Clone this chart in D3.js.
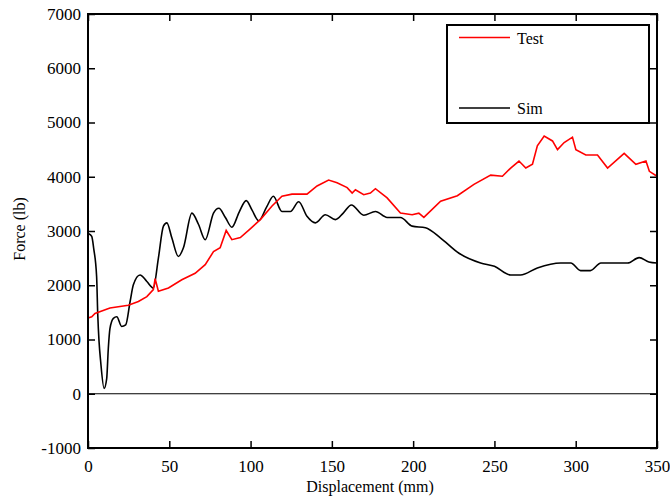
<!DOCTYPE html>
<html>
<head>
<meta charset="utf-8">
<script src="https://cdn.jsdelivr.net/npm/d3@7"></script>
<style>
	body { margin: 0; background: #fff; }
	text { font-family: "Liberation Serif", "Times New Roman", serif; fill: #000; }
</style>
</head>
<body>
<div id="chart"></div>
<script>
// chart data
const testDisp = [0.5, 2.3, 4.3, 13.5, 24.8, 31, 36.2, 40.2, 41.3, 43.3, 49.5, 57.7, 65.9, 72.1, 77.2, 81.3, 85, 88.5, 93.7, 99.8, 106, 113.2, 119.3, 125.5, 134.7, 140.9, 148, 153.2, 159.4, 162.5, 164.5, 169.6, 173.7, 176.8, 184, 192.2, 199.4, 203.5, 206.6, 216.9, 227.2, 237.4, 247.7, 254.9, 260, 265.1, 269.3, 273.4, 276.4, 280.6, 285.7, 288.8, 292.9, 298, 300.1, 306.2, 313.4, 319.6, 329.8, 337, 343.2, 345.3, 350]
const testForce = [1400, 1420, 1480, 1580, 1630, 1700, 1790, 1920, 2120, 1890, 1950, 2100, 2220, 2380, 2620, 2690, 3010, 2840, 2880, 3040, 3210, 3460, 3640, 3680, 3680, 3830, 3940, 3890, 3800, 3700, 3760, 3670, 3700, 3780, 3610, 3330, 3300, 3330, 3250, 3550, 3650, 3860, 4030, 4010, 4160, 4290, 4160, 4230, 4570, 4750, 4660, 4500, 4630, 4730, 4500, 4400, 4400, 4160, 4430, 4230, 4290, 4100, 4010]

const simDisp = [0.5, 2.3, 3.5, 5.3, 6, 6.8, 7.8, 9.9, 11.5, 12.5, 13.5, 15.6, 17.7, 20.7, 23.2, 25.9, 27.9, 32, 36.2, 40.2, 43.3, 46.4, 48.5, 51.6, 55.6, 58.7, 63.9, 68, 72.1, 77.2, 80.5, 84.5, 88.5, 93, 97.3, 101, 105, 110, 114, 119.3, 124.5, 129.6, 134.7, 139.9, 146, 152.2, 157, 162, 169.6, 176.8, 184, 192.2, 199.4, 207.6, 216.9, 228.2, 241.5, 250, 260, 266, 276.4, 290.8, 297, 303, 309, 315.5, 331.9, 339, 345, 350]
const simForce = [2950, 2900, 2680, 2160, 1460, 960, 590, 100, 280, 840, 1200, 1390, 1420, 1240, 1270, 1700, 2010, 2190, 2070, 1950, 2500, 3090, 3150, 2870, 2530, 2690, 3330, 3120, 2840, 3330, 3420, 3250, 3070, 3350, 3560, 3380, 3190, 3450, 3640, 3360, 3360, 3540, 3270, 3150, 3300, 3210, 3330, 3480, 3290, 3360, 3250, 3250, 3090, 3060, 2870, 2590, 2410, 2350, 2190, 2190, 2320, 2410, 2410, 2270, 2270, 2410, 2410, 2510, 2430, 2410]

const xTicks = [0, 50, 100, 150, 200, 250, 300, 350]
const yTicks = [-1000, 0, 1000, 2000, 3000, 4000, 5000, 6000, 7000]
const seriesNames = ["Test", "Sim"]
const seriesColors = ["#ff0000", "#000000"]

const svgWidth = 670
const svgHeight = 497

let margin = { top: 14, right: 13, bottom: 49, left: 88 }
let width = svgWidth - margin.left - margin.right
let height = svgHeight - margin.top - margin.bottom

let svg = d3.select("#chart")
	.append("svg")
	.attr("width", svgWidth)
	.attr("height", svgHeight)

let chartGroup = svg.append("g")
	.attr("transform", `translate(${margin.left}, ${margin.top})`)

let xScale = d3.scaleLinear().domain([0, 350]).range([0, width])
let yScale = d3.scaleLinear().domain([-1000, 7000]).range([height, 0])

// plain number labels with a hyphen minus, like the original
let plain = d => String(d)

// axes, ticks pointing inward on all four sides
let styleAxis = g => {
	g.select(".domain").remove()
	g.selectAll(".tick line").attr("stroke", "#000").attr("stroke-width", 1.5)
}

chartGroup.append("g")
	.attr("transform", `translate(0, ${height})`)
	.call(d3.axisBottom(xScale).tickValues(xTicks).tickSizeInner(-7).tickSizeOuter(0).tickPadding(12).tickFormat(plain))
	.call(styleAxis)
	.selectAll("text").style("font-size", "17px")

chartGroup.append("g")
	.call(d3.axisTop(xScale).tickValues(xTicks).tickSizeInner(-7).tickSizeOuter(0).tickFormat(""))
	.call(styleAxis)

chartGroup.append("g")
	.call(d3.axisLeft(yScale).tickValues(yTicks).tickSizeInner(-7).tickSizeOuter(0).tickPadding(7).tickFormat(plain))
	.call(styleAxis)
	.selectAll("text").style("font-size", "17px")

chartGroup.append("g")
	.attr("transform", `translate(${width}, 0)`)
	.call(d3.axisRight(yScale).tickValues(yTicks).tickSizeInner(-7).tickSizeOuter(0).tickFormat(""))
	.call(styleAxis)

// zero line
chartGroup.append("line")
	.attr("x1", 0).attr("x2", width)
	.attr("y1", yScale(0)).attr("y2", yScale(0))
	.attr("stroke", "#000").attr("stroke-width", 1.2)

// curves
let testLine = d3.line()
	.x(d => xScale(d[0]))
	.y(d => yScale(d[1]))

let simLine = d3.line()
	.curve(d3.curveMonotoneX)
	.x(d => xScale(d[0]))
	.y(d => yScale(d[1]))

let testData = testDisp.map((d, i) => [d, testForce[i]])
let simData = simDisp.map((d, i) => [d, simForce[i]])

chartGroup.append("path")
	.datum(simData)
	.attr("d", simLine)
	.attr("fill", "none")
	.attr("stroke", seriesColors[1])
	.attr("stroke-width", 1.6)

chartGroup.append("path")
	.datum(testData)
	.attr("d", testLine)
	.attr("fill", "none")
	.attr("stroke", seriesColors[0])
	.attr("stroke-width", 1.6)

// frame
chartGroup.append("rect")
	.attr("width", width).attr("height", height)
	.attr("fill", "none")
	.attr("stroke", "#000").attr("stroke-width", 2)

// legend
let legend = svg.append("g").attr("transform", "translate(447, 25)")
legend.append("rect")
	.attr("width", 202).attr("height", 98)
	.attr("fill", "#fff")
	.attr("stroke", "#000").attr("stroke-width", 2)

let legendRows = [12.5, 83]
seriesNames.forEach((name, i) => {
	legend.append("line")
		.attr("x1", 12).attr("x2", 63)
		.attr("y1", legendRows[i]).attr("y2", legendRows[i])
		.attr("stroke", seriesColors[i]).attr("stroke-width", 1.6)
	legend.append("text")
		.attr("x", 70).attr("y", legendRows[i] + 6)
		.style("font-size", "16px")
		.text(name)
})

// axis labels
svg.append("text")
	.attr("x", 370).attr("y", 492)
	.attr("text-anchor", "middle")
	.style("font-size", "16px")
	.text("Displacement (mm)")

svg.append("text")
	.attr("transform", "translate(25, 229) rotate(-90)")
	.attr("text-anchor", "middle")
	.style("font-size", "16px")
	.text("Force (lb)")
</script>
</body>
</html>
